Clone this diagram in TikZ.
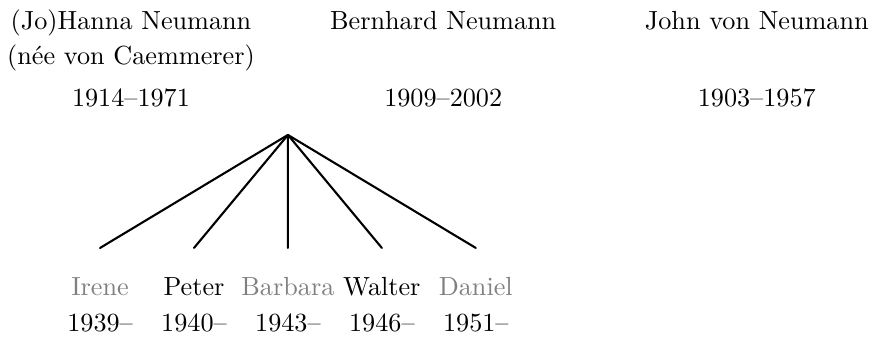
\documentclass[tikz,border=0pt]{standalone}
\usepackage{tikz}

\begin{document}
\begin{tikzpicture}[
  line cap=round,
  every node/.style={inner sep=0pt, anchor=base},
  branch/.style={line width=0.8pt}
  ]
  \useasboundingbox (0,0) rectangle (11.75,4.546);

  % Parents
  \node (hanna) at (1.757,4.144) {(Jo)Hanna Neumann};
  \node (hannanee) at (1.757,3.674) {(née von Caemmerer)};
  \node (hannadate) at (1.757,3.111) {1914--1971};

  \node (bernhard) at (5.945,4.144) {Bernhard Neumann};
  \node (bernharddate) at (5.945,3.111) {1909--2002};

  % Not related
  \node (john) at (10.151,4.144) {John von Neumann};
  \node (johndate) at (10.151,3.111) {1903--1957};

  % Children
  \coordinate (family) at (3.862,2.736);
  \foreach \kidname/\kidyear/\kidcol [count=\i] in
    {Irene/1939/gray, Peter/1940/black, Barbara/1943/gray,
     Walter/1946/black, Daniel/1951/gray}
  {
    \node[text=\kidcol] (kid\i) at (0.082+1.26*\i,0.577) {\kidname};
    \node (kiddate\i) at (0.082+1.26*\i,0.094) {\kidyear--};
    \draw[branch] (family) -- ([yshift=0.643cm]kid\i.base);
  }
\end{tikzpicture}
\end{document}
